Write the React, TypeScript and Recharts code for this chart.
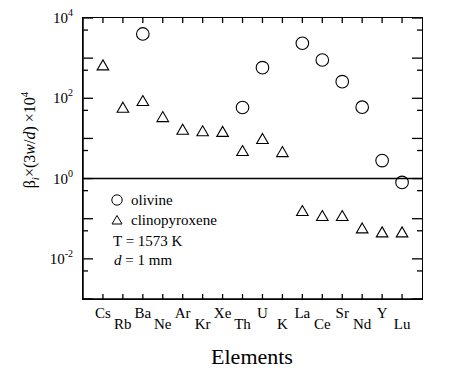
import { ScatterChart, Scatter, XAxis, YAxis, ReferenceLine } from 'recharts'

const elements = ['Cs', 'Rb', 'Ba', 'Ne', 'Ar', 'Kr', 'Xe', 'Th', 'U', 'K', 'La', 'Ce', 'Sr', 'Nd', 'Y', 'Lu']
const elementTicks = elements.map((_, i) => i)

// olivine only has values for some elements
const olivineElements = ['Ba', 'Th', 'U', 'La', 'Ce', 'Sr', 'Nd', 'Y', 'Lu']
const olivineValues = [4000, 59, 580, 2350, 900, 260, 60, 2.8, 0.8]

// clinopyroxene, one value per element
const cpxValues = [680, 60, 88, 35, 17, 15.5, 15, 5, 10, 4.7, 0.16, 0.12, 0.12, 0.059, 0.047, 0.047]

const yTicks = [0.001, 0.005, 0.01, 0.05, 0.1, 0.5, 1, 5, 10, 50, 100, 500, 1000, 5000, 10000]
const yLabelExponents = [-2, 0, 2, 4]

const olivineData = olivineElements.map((el, i) => ({ x: elements.indexOf(el), y: olivineValues[i] }))
const cpxData = cpxValues.map((v, i) => ({ x: i, y: v }))

const FONT = '"Liberation Serif", serif'

const W = 450
const H = 375
const MARGIN = { top: 18, right: 28, bottom: 0, left: 0 }
const Y_AXIS_W = 83
const X_AXIS_H = 76
// plot box size, used for the frame and the mirrored ticks
const PLOT_W = W - MARGIN.right - MARGIN.left - Y_AXIS_W
const PLOT_H = H - MARGIN.top - MARGIN.bottom - X_AXIS_H

const CircleMark = (props: any) => (
  <circle cx={props.cx} cy={props.cy} r={6.3} fill="none" stroke="#000" strokeWidth={1.1} />
)

const TriangleMark = (props: any) => {
  const { cx, cy } = props
  return (
    <path
      d={`M${cx},${cy - 5} L${cx + 5.8},${cy + 5} L${cx - 5.8},${cy + 5} Z`}
      fill="none"
      stroke="#000"
      strokeWidth={1.1}
    />
  )
}

const BottomTick = (props: any) => {
  const x = Number(props.x)
  const y = Number(props.y)
  const low = props.index % 2 === 1
  return (
    <g>
      <line x1={x} y1={y} x2={x} y2={y - 5} stroke="#000" strokeWidth={1.3} />
      <line x1={x} y1={y - PLOT_H} x2={x} y2={y - PLOT_H + 5} stroke="#000" strokeWidth={1.3} />
      <text x={x} y={y + (low ? 30 : 19)} textAnchor="middle" fontFamily={FONT} fontSize={15} fill="#000">
        {elements[props.payload.value]}
      </text>
    </g>
  )
}

const isDecade = (v: number) => Math.abs(Math.log10(v) - Math.round(Math.log10(v))) < 1e-6

const LeftTick = (props: any) => {
  const x = Number(props.x)
  const y = Number(props.y)
  const v = props.payload.value
  const len = isDecade(v) ? 10 : 5
  const exp = Math.round(Math.log10(v))
  const labelled = isDecade(v) && yLabelExponents.includes(exp)
  return (
    <g>
      <line x1={x} y1={y} x2={x + len} y2={y} stroke="#000" strokeWidth={1.3} />
      <line x1={x + PLOT_W} y1={y} x2={x + PLOT_W - len} y2={y} stroke="#000" strokeWidth={1.3} />
      {labelled && (
        <text x={x - 10} y={y + 5} textAnchor="end" fontFamily={FONT} fontSize={15} fill="#000">
          10
          <tspan fontSize={10} dy={-7}>{exp}</tspan>
        </text>
      )}
    </g>
  )
}

export default function App() {
  return (
    <div style={{ position: 'absolute', left: 0, top: 0, width: W, height: H, background: '#fff' }}>
      <ScatterChart width={W} height={H} margin={MARGIN}>
        <XAxis
          xAxisId="b"
          type="number"
          dataKey="x"
          domain={[-1, 16]}
          ticks={elementTicks}
          interval={0}
          allowDataOverflow
          height={X_AXIS_H}
          stroke="#000"
          axisLine={{ stroke: '#000', strokeWidth: 1.5 }}
          tickLine={false}
          tickSize={0}
          tickMargin={0}
          tick={<BottomTick />}
        />
        <YAxis
          yAxisId="l"
          type="number"
          dataKey="y"
          scale="log"
          domain={[0.001, 10000]}
          ticks={yTicks}
          interval={0}
          allowDataOverflow
          width={Y_AXIS_W}
          stroke="#000"
          axisLine={{ stroke: '#000', strokeWidth: 1.5 }}
          tickLine={false}
          tickSize={0}
          tickMargin={0}
          tick={<LeftTick />}
        />
        <ReferenceLine xAxisId="b" yAxisId="l" y={1} stroke="#000" strokeWidth={1.6} ifOverflow="visible" />
        <Scatter
          name="olivine"
          data={olivineData}
          xAxisId="b"
          yAxisId="l"
          shape={<CircleMark />}
          isAnimationActive={false}
        />
        <Scatter
          name="clinopyroxene"
          data={cpxData}
          xAxisId="b"
          yAxisId="l"
          shape={<TriangleMark />}
          isAnimationActive={false}
        />
      </ScatterChart>

      {/* frame around the plot box */}
      <div
        style={{
          position: 'absolute',
          left: MARGIN.left + Y_AXIS_W - 0.8,
          top: MARGIN.top - 0.8,
          width: PLOT_W - 0.1,
          height: PLOT_H - 0.1,
          border: '1.6px solid #000',
          pointerEvents: 'none',
        }}
      />

      {/* axis titles and legend */}
      <svg
        width={W}
        height={H}
        style={{ position: 'absolute', left: 0, top: 0, pointerEvents: 'none' }}
        fontFamily={FONT}
        fill="#000"
      >
        <text x={252} y={364} textAnchor="middle" fontSize={22}>
          Elements
        </text>
        <text transform="translate(35,140) rotate(-90)" textAnchor="middle" fontSize={16}>
          β<tspan fontStyle="italic" fontSize={11} dy={4}>i</tspan>
          <tspan dy={-4}>×(3</tspan>
          <tspan fontStyle="italic">w</tspan>/<tspan fontStyle="italic">d</tspan>) ×10
          <tspan fontSize={11} dy={-7}>4</tspan>
        </text>
        <g fontSize={15}>
          <circle cx={117} cy={200} r={5.2} fill="none" stroke="#000" strokeWidth={1} />
          <text x={131} y={205}>olivine</text>
          <path d="M117,215.5 L122,224 L112,224 Z" fill="none" stroke="#000" strokeWidth={1} />
          <text x={131} y={225}>clinopyroxene</text>
          <text x={113} y={246}>T = 1573 K</text>
          <text x={114} y={265}>
            <tspan fontStyle="italic">d</tspan> = 1 mm
          </text>
        </g>
      </svg>
    </div>
  )
}
